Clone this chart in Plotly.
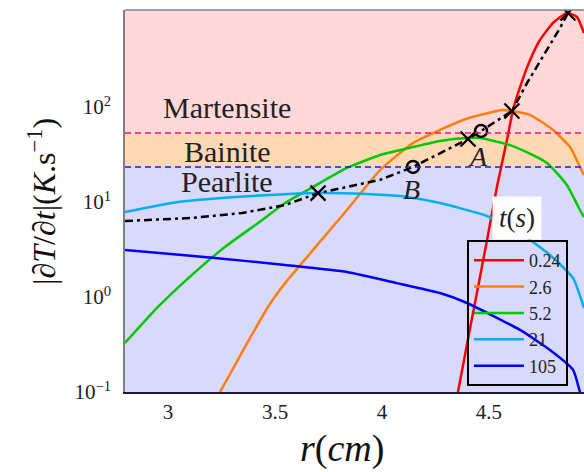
import math
import plotly.graph_objects as go

# ---------------- data ----------------
legend_labels = ["0.24", "2.6", "5.2", "21", "105"]
line_colors = ["#ff0000", "#ff7f0e", "#00c800", "#00aff0", "#0000ff"]

r_024 = [4.355, 4.411, 4.491, 4.537, 4.584, 4.612, 4.645, 4.692, 4.738, 4.799, 4.864, 4.911, 4.944]
v_024 = [0.100, 0.46, 3.98, 14.4, 45.0, 93, 162, 312, 507, 766, 976, 886, 601]

r_26 = [3.243, 3.360, 3.467, 3.547, 3.678, 3.836, 3.991, 4.145, 4.271, 4.379, 4.458, 4.565, 4.692, 4.799, 4.879, 4.925, 4.944]
v_26 = [0.100, 0.298, 0.785, 1.40, 3.13, 8.24, 21.7, 41.8, 57.3, 73.0, 82.4, 93, 82.4, 57.3, 37.9, 23.4, 19.2]

r_52 = [2.799, 2.953, 3.112, 3.266, 3.421, 3.547, 3.678, 3.836, 3.991, 4.145, 4.271, 4.397, 4.458, 4.612, 4.771, 4.864, 4.925, 4.944]
v_52 = [0.328, 0.785, 1.71, 3.36, 6.01, 9.76, 14.4, 22.8, 31.2, 37.9, 43.9, 47.2, 47.2, 38.8, 25.8, 15.1, 8.24, 6.95]

r_21 = [2.799, 3.047, 3.313, 3.547, 3.757, 3.991, 4.117, 4.271, 4.491, 4.645, 4.785, 4.893, 4.944]
v_21 = [7.85, 10.0, 11.3, 12.1, 12.4, 11.9, 11.3, 9.76, 7.12, 4.72, 2.77, 1.58, 0.766]

r_105 = [2.799, 3.220, 3.547, 3.836, 4.070, 4.271, 4.397, 4.645, 4.785, 4.893, 4.925, 4.944]
v_105 = [3.13, 2.58, 2.17, 1.83, 1.40, 1.10, 0.865, 0.45, 0.277, 0.171, 0.100, 0.073]

series_r = [r_024, r_26, r_52, r_21, r_105]
series_v = [v_024, v_26, v_52, v_21, v_105]

# cooling path (dash-dot)
path_r = [2.799, 3.112, 3.346, 3.547, 3.701, 3.991, 4.145, 4.402, 4.463, 4.607, 4.678, 4.771, 4.832, 4.869]
path_v = [6.31, 6.79, 7.66, 9.29, 12.4, 17.1, 23.4, 46.0, 55.9, 90.7, 179, 398, 679, 976]

cross_r = [3.701, 4.402, 4.607, 4.869]
cross_v = [12.4, 46.0, 90.7, 976]

circle_labels = ["A", "B"]
circle_r = [4.463, 4.145]
circle_v = [55.9, 23.4]
circle_label_r = [4.449, 4.136]
circle_label_v = [29.8, 13.4]

# phase thresholds
martensite_min = 53.2
bainite_min = 23.4
phase_names = ["Martensite", "Bainite", "Pearlite"]
phase_label_r = 3.276
phase_label_v = [100, 33.6, 16.6]

x_ticks = [3, 3.5, 4, 4.5]
y_ticks = [0.1, 1, 10, 100]
y_ticktext = ["10<sup>−1</sup>", "10<sup>0</sup>", "10<sup>1</sup>", "10<sup>2</sup>"]

x_range = [2.799, 4.944]
y_range_log = [-1, 3.021]
y_top = 10 ** y_range_log[1]
y_bot = 10 ** y_range_log[0]

SERIF = "Liberation Serif, DejaVu Serif, serif"

fig = go.Figure()

for r, v, name, col in zip(series_r, series_v, legend_labels, line_colors):
    fig.add_trace(go.Scatter(x=r, y=v, mode="lines", name=name,
                             line=dict(color=col, width=2.5, shape="spline", smoothing=0.5)))

fig.add_trace(go.Scatter(x=path_r, y=path_v, mode="lines", showlegend=False,
                         line=dict(color="black", width=2.5, dash="8px,4px,3px,4px")))
fig.add_trace(go.Scatter(x=cross_r, y=cross_v, mode="markers", showlegend=False,
                         marker=dict(symbol="x-thin-open", size=15, color="black",
                                     line=dict(color="black", width=2.2))))
fig.add_trace(go.Scatter(x=circle_r, y=circle_v, mode="markers", showlegend=False,
                         marker=dict(symbol="circle-open", size=12, color="black",
                                     line=dict(color="black", width=2.5))))

# phase bands
shapes = [
    dict(type="rect", xref="x", yref="y", x0=x_range[0], x1=x_range[1], y0=martensite_min, y1=y_top,
         fillcolor="#ffd9d9", line=dict(width=0), layer="below"),
    dict(type="rect", xref="x", yref="y", x0=x_range[0], x1=x_range[1], y0=bainite_min, y1=martensite_min,
         fillcolor="#ffd8b6", line=dict(width=0), layer="below"),
    dict(type="rect", xref="x", yref="y", x0=x_range[0], x1=x_range[1], y0=y_bot, y1=bainite_min,
         fillcolor="#d9d9fc", line=dict(width=0), layer="below"),
    dict(type="line", xref="paper", yref="y", x0=0, x1=1, y0=martensite_min, y1=martensite_min,
         line=dict(color="#f0147f", width=1.5, dash="6px,4px")),
    dict(type="line", xref="paper", yref="y", x0=0, x1=1, y0=bainite_min, y1=bainite_min,
         line=dict(color="#1a1aff", width=1.5, dash="6px,4px")),
    dict(type="line", xref="paper", yref="paper", x0=0, x1=1, y0=1, y1=1,
         line=dict(color="#808080", width=1.5)),
]

annotations = []
for name, v in zip(phase_names, phase_label_v):
    annotations.append(dict(x=phase_label_r, y=math.log10(v), xref="x", yref="y",
                            xanchor="center", yanchor="middle",
                            text=name, showarrow=False, font=dict(family=SERIF, size=30, color="#222")))
for lab, r, v in zip(circle_labels, circle_label_r, circle_label_v):
    annotations.append(dict(x=r, y=math.log10(v), xref="x", yref="y", xanchor="center", yanchor="middle",
                            text=f"<i>{lab}</i>", showarrow=False,
                            font=dict(family=SERIF, size=28, color="#222")))
annotations.append(dict(x=0.854, y=0.455, xref="paper", yref="paper", xanchor="center", yanchor="middle",
                        text="<i>t</i>(<i>s</i>)", showarrow=False, bgcolor="white", borderpad=6,
                        font=dict(family=SERIF, size=27, color="#222")))
annotations.append(dict(x=-0.181, y=0.5, xref="paper", yref="paper", textangle=-90,
                        xanchor="center", yanchor="middle",
                        text="|∂<i>T</i>/∂<i>t</i>|(<i>K</i>.s<sup>−1</sup>)", showarrow=False,
                        font=dict(family=SERIF, size=32, color="#111")))
annotations.append(dict(x=0.473, y=-0.149, xref="paper", yref="paper", xanchor="center", yanchor="middle",
                        text="<i>r</i>(<i>cm</i>)", showarrow=False,
                        font=dict(family=SERIF, size=38, color="#111")))

fig.update_layout(
    width=584, height=472,
    margin=dict(l=125, r=0, t=10, b=80, autoexpand=False),
    paper_bgcolor="white", plot_bgcolor="white",
    shapes=shapes, annotations=annotations,
    font=dict(family=SERIF, color="#222"),
    legend=dict(x=0.745, y=0.398, xanchor="left", yanchor="top",
                bgcolor="rgba(0,0,0,0)", bordercolor="black", borderwidth=2,
                font=dict(family=SERIF, size=18, color="#222"), itemwidth=50),
    xaxis=dict(range=x_range, tickvals=x_ticks, ticktext=[str(t) for t in x_ticks],
               showgrid=False, zeroline=False, showline=True, linecolor="#1a1a40", linewidth=1.5,
               ticks="", tickfont=dict(family=SERIF, size=21, color="#222")),
    yaxis=dict(type="log", range=y_range_log, tickvals=y_ticks, ticktext=y_ticktext,
               showgrid=False, zeroline=False, showline=True, linecolor="#808080", linewidth=1.5,
               ticks="", ticklabelstandoff=8, tickfont=dict(family=SERIF, size=21, color="#222")),
)

fig.write_html("out.html", config={"displayModeBar": False},
               post_script="document.body.style.margin='0';document.body.style.overflow='hidden';")
